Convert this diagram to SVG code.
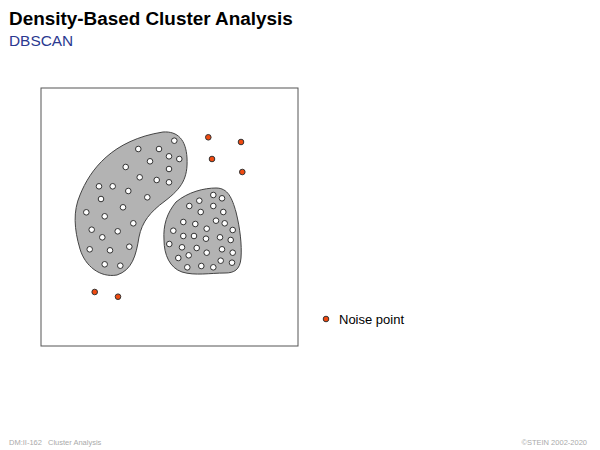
<svg xmlns="http://www.w3.org/2000/svg" width="600" height="450" viewBox="0 0 600 450">
<style>
.title{font-family:"Liberation Sans",Arial,sans-serif;font-weight:bold;font-size:18.9px;fill:#000}
.sub{font-family:"Liberation Sans",Arial,sans-serif;font-size:15.4px;fill:#2b3990}
.foot{font-family:"Liberation Sans",Arial,sans-serif;font-size:7.5px;fill:#aaa}
.leg{font-family:"Liberation Sans",Arial,sans-serif;font-size:13px;fill:#000}
.cl{fill:#b3b3b3;stroke:#444;stroke-width:1}
.p{fill:#fff;stroke:#333;stroke-width:1}
.n{fill:#f04a10;stroke:#333;stroke-width:1}
</style>
<rect width="600" height="450" fill="#fff"/>
<text class="title" x="9" y="25">Density-Based Cluster Analysis</text>
<text class="sub" x="9" y="46">DBSCAN</text>
<rect x="41" y="88" width="257" height="258" fill="#fff" stroke="#555" stroke-width="1"/>
<g id="cluster1">
<path class="cl" d="M163,132 C178,131 186,140 187,158 C188,178 182,188 165,201 C150,212 142,222 139,237 C136,256 132,270 117,275 C100,278 85,266 80,249 C74,229 73,211 80,195 C90,170 112,140 163,132 Z"/>
<g>
<circle class="p" cx="174.3" cy="140.7" r="2.8"/>
<circle class="p" cx="138.3" cy="149" r="2.8"/>
<circle class="p" cx="159" cy="149" r="2.8"/>
<circle class="p" cx="169" cy="156.3" r="2.8"/>
<circle class="p" cx="179.3" cy="159" r="2.8"/>
<circle class="p" cx="150" cy="161.3" r="2.8"/>
<circle class="p" cx="125.7" cy="167" r="2.8"/>
<circle class="p" cx="169" cy="169" r="2.8"/>
<circle class="p" cx="139.7" cy="177.3" r="2.8"/>
<circle class="p" cx="156.7" cy="180" r="2.8"/>
<circle class="p" cx="169" cy="182.3" r="2.8"/>
<circle class="p" cx="99" cy="186.3" r="2.8"/>
<circle class="p" cx="112.7" cy="186.3" r="2.8"/>
<circle class="p" cx="128.3" cy="191" r="2.8"/>
<circle class="p" cx="101" cy="199" r="2.8"/>
<circle class="p" cx="147.3" cy="197.3" r="2.8"/>
<circle class="p" cx="86.3" cy="212.3" r="2.8"/>
<circle class="p" cx="123" cy="207.3" r="2.8"/>
<circle class="p" cx="104.7" cy="216.3" r="2.8"/>
<circle class="p" cx="133.3" cy="223.3" r="2.8"/>
<circle class="p" cx="91.7" cy="229.7" r="2.8"/>
<circle class="p" cx="117.7" cy="231.3" r="2.8"/>
<circle class="p" cx="102.3" cy="237.3" r="2.8"/>
<circle class="p" cx="129.3" cy="246.7" r="2.8"/>
<circle class="p" cx="89.7" cy="249.3" r="2.8"/>
<circle class="p" cx="110" cy="250.3" r="2.8"/>
<circle class="p" cx="104.7" cy="264.3" r="2.8"/>
<circle class="p" cx="120.3" cy="265.7" r="2.8"/>
</g>
</g>
<g id="cluster2">
<path class="cl" d="M216,188 C228,188 232,198 236,212 C240,228 242,245 241,258 C240,270 234,273 225,273 C210,273 195,276 182,272 C170,268 164,255 164,240 C163,225 167,213 176,202 C188,192 204,188 216,188 Z"/>
<g>
<circle class="p" cx="213.3" cy="195" r="2.8"/>
<circle class="p" cx="222" cy="198.3" r="2.8"/>
<circle class="p" cx="199.3" cy="200.7" r="2.8"/>
<circle class="p" cx="189.3" cy="206" r="2.8"/>
<circle class="p" cx="213.3" cy="206" r="2.8"/>
<circle class="p" cx="200.7" cy="212" r="2.8"/>
<circle class="p" cx="223.3" cy="212" r="2.8"/>
<circle class="p" cx="183.3" cy="222" r="2.8"/>
<circle class="p" cx="216" cy="220.7" r="2.8"/>
<circle class="p" cx="195.3" cy="224" r="2.8"/>
<circle class="p" cx="224.7" cy="223.3" r="2.8"/>
<circle class="p" cx="206.7" cy="228.7" r="2.8"/>
<circle class="p" cx="173.3" cy="230.7" r="2.8"/>
<circle class="p" cx="232.7" cy="230" r="2.8"/>
<circle class="p" cx="183.3" cy="236" r="2.8"/>
<circle class="p" cx="194" cy="236" r="2.8"/>
<circle class="p" cx="206" cy="238.7" r="2.8"/>
<circle class="p" cx="220" cy="237.3" r="2.8"/>
<circle class="p" cx="230.7" cy="240" r="2.8"/>
<circle class="p" cx="169.3" cy="244" r="2.8"/>
<circle class="p" cx="182" cy="247.3" r="2.8"/>
<circle class="p" cx="196.7" cy="248" r="2.8"/>
<circle class="p" cx="222" cy="249.3" r="2.8"/>
<circle class="p" cx="206.7" cy="252.7" r="2.8"/>
<circle class="p" cx="178.3" cy="258" r="2.8"/>
<circle class="p" cx="188.7" cy="255.3" r="2.8"/>
<circle class="p" cx="232.7" cy="252.7" r="2.8"/>
<circle class="p" cx="220.7" cy="260.7" r="2.8"/>
<circle class="p" cx="232" cy="262.7" r="2.8"/>
<circle class="p" cx="187.3" cy="267.3" r="2.8"/>
<circle class="p" cx="201.3" cy="266" r="2.8"/>
<circle class="p" cx="213.3" cy="267.3" r="2.8"/>
</g>
</g>
<g id="noise">
<circle class="n" cx="208.3" cy="137.3" r="2.8"/>
<circle class="n" cx="241" cy="142" r="2.8"/>
<circle class="n" cx="212" cy="159" r="2.8"/>
<circle class="n" cx="242.3" cy="172" r="2.8"/>
<circle class="n" cx="94.7" cy="292" r="2.8"/>
<circle class="n" cx="118" cy="296.7" r="2.8"/>
</g>
<g id="legend">
<circle class="n" cx="326" cy="319" r="2.8"/>
<text class="leg" x="339" y="323.5">Noise point</text>
</g>
<text class="foot" x="9" y="445">DM:II-162</text>
<text class="foot" x="48" y="445">Cluster Analysis</text>
<text class="foot" x="587" y="445" text-anchor="end">©STEIN 2002-2020</text>
</svg>
